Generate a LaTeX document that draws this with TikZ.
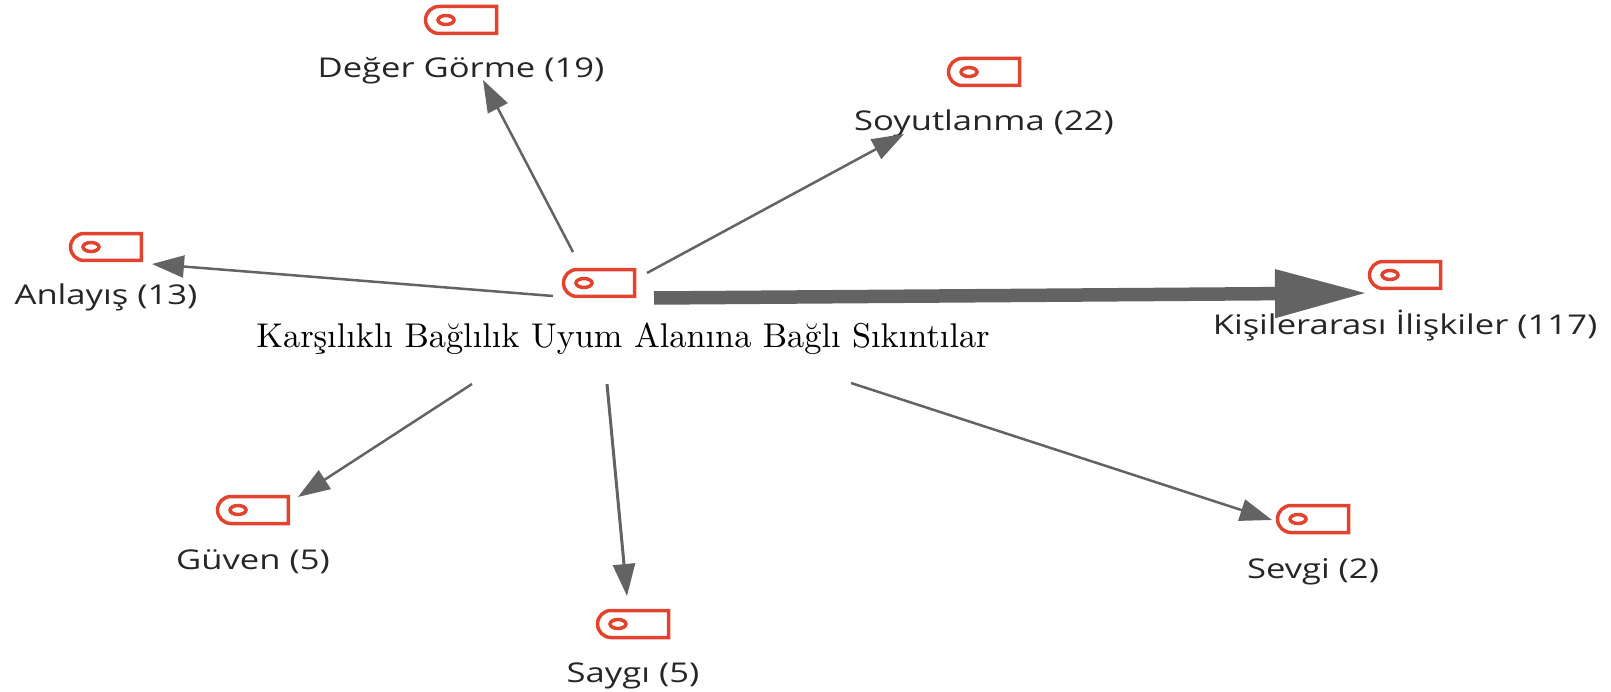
\documentclass[tikz,border=0pt]{standalone}
\usepackage{fontspec}
\usepackage{tikz}
\usetikzlibrary{arrows.meta}
\usetikzlibrary{shapes.misc}
\newfontfamily\tagfont[FakeStretch=1.27]{Open Sans}
\newfontfamily\hubfont{lmroman10-regular.otf}
\definecolor{tagred}{HTML}{E2432E}
\definecolor{linkgray}{HTML}{636363}
\tikzset{
    tag/.style={shape=rounded rectangle, rounded rectangle right arc=none, draw=tagred, line width=0.07cm,
        inner sep=0pt, minimum width=1.42cm, minimum height=0.54cm,
        path picture={\draw[tagred, line width=0.07cm] ([xshift=-0.3cm]path picture bounding box.center) ellipse (0.16cm and 0.09cm);}},
    tagtext/.style={font=\tagfont\fontsize{15.5}{18}\selectfont, text=black!85, inner sep=0pt, label distance=0.43cm},
    link/.style={draw=linkgray, line width=0.05cm, -{Triangle[length=0.64cm, width=0.44cm]}},
}
\begin{document}
\begin{tikzpicture}[x=0.02cm, y=-0.02cm]
        \useasboundingbox (0,0) rectangle (1611,692);
        \node (hub) at (599,283) [tag] {};
        \node (hubtext) at (623,339) [font=\hubfont\fontsize{19.55}{24}\selectfont, inner sep=0pt] {Karşılıklı Bağlılık Uyum Alanına Bağlı Sıkıntılar};
        \node (deger) at (461,20) [tag, label={[tagtext]south:Değer Görme (19)}] {};
        \node (soyut) at (984,72) [tag, label={[tagtext, label distance=0.45cm]south:Soyutlanma (22)}] {};
        \node (anlayis) at (106,247) [tag, label={[tagtext]south:Anlayış (13)}] {};
        \node (iliski) at (1405,275) [tag, label={[tagtext, label distance=0.39cm]south:Kişilerarası İlişkiler (117)}] {};
        \node (guven) at (253,510) [tag, label={[tagtext, label distance=0.49cm]south:Güven (5)}] {};
        \node (saygi) at (633,624) [tag, label={[tagtext, label distance=0.47cm]south:Saygı (5)}] {};
        \node (sevgi) at (1313,519) [tag, label={[tagtext, label distance=0.47cm]south:Sevgi (2)}] {};
        % the ends stop short of the nodes
        \draw[link] ([shift={(-26,-31)}]hub.center) -- ([shift={(22,60)}]deger.center);
        \draw[link] ([shift={(48,-10)}]hub.center) -- ([shift={(-80,62)}]soyut.center);
        \draw[link] ([shift={(-46,13)}]hub.center) -- ([shift={(46,17)}]anlayis.center);
        \draw[draw=linkgray, line width=0.27cm, -{Triangle[length=1.86cm, width=0.9cm]}] ([shift={(55,15)}]hub.center) -- ([shift={(-37,18)}]iliski.center);
        \draw[link] ([shift={(-127,101)}]hub.center) -- ([shift={(45,-13)}]guven.center);
        \draw[link, line width=0.06cm] ([shift={(8,101)}]hub.center) -- ([shift={(-6,-28)}]saygi.center);
        \draw[link] ([shift={(252,100)}]hub.center) -- ([shift={(-41,1)}]sevgi.center);
    \end{tikzpicture}
\end{document}
